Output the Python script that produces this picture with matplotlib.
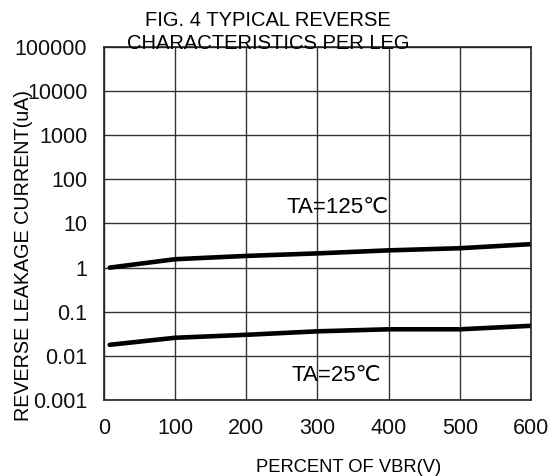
import numpy as np
import matplotlib
matplotlib.use("Agg")
import matplotlib.pyplot as plt

plt.rcParams['font.family'] = ['Liberation Sans', 'DejaVu Sans']

# Percent of VBR vs reverse leakage current (uA)
pct_vbr = [8, 100, 200, 300, 400, 500, 600]
ir_125c = [1.0, 1.55, 1.84, 2.1, 2.46, 2.75, 3.4]
ir_25c = [0.0178, 0.0257, 0.030, 0.036, 0.040, 0.040, 0.048]

x_ticks = [0, 100, 200, 300, 400, 500, 600]
y_ticks = [0.001, 0.01, 0.1, 1, 10, 100, 1000, 10000, 100000]
y_labels = ["0.001", "0.01", "0.1", "1", "10", "100", "1000", "10000", "100000"]

fig = plt.figure(figsize=(5.57, 4.76), dpi=100)
ax = fig.add_axes([0.1867, 0.1597, 0.7666, 0.7416])

ax.plot(pct_vbr, ir_125c, color="black", linewidth=3.3, solid_capstyle="round")
ax.plot(pct_vbr, ir_25c, color="black", linewidth=3.3, solid_capstyle="round")

ax.set_yscale("log")
ax.set_xlim(0, 600)
ax.set_ylim(0.001, 100000)
ax.set_xticks(x_ticks)
ax.set_yticks(y_ticks)
ax.set_yticklabels(y_labels)
ax.minorticks_off()
ax.tick_params(axis="both", length=0, labelsize=15.5, colors="#111111")
ax.tick_params(axis="x", pad=13)
ax.tick_params(axis="y", pad=12)
ax.grid(True, color="#333333", linewidth=1.0)
for s in ax.spines.values():
    s.set_color("#222222")
    s.set_linewidth(1.2)

ax.text(256, 23.5, "TA=125℃", fontsize=16, va="center", ha="left")
ax.text(264, 0.0036, "TA=25℃", fontsize=16, va="center", ha="left")

fig.text(0.481, 0.956, "FIG. 4 TYPICAL REVERSE", fontsize=14.5, ha="center", va="center")
fig.text(0.481, 0.908, "CHARACTERISTICS PER LEG", fontsize=14.5, ha="center", va="center")
fig.text(0.625, 0.018, "PERCENT OF VBR(V)", fontsize=13.2, ha="center", va="center")
fig.text(0.042, 0.464, "REVERSE LEAKAGE CURRENT(uA)", fontsize=14.2, ha="center", va="center", rotation=90)

fig.savefig("out.png", dpi=100)
